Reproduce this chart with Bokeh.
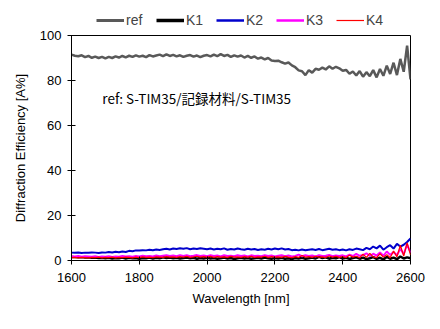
from bokeh.plotting import figure
from bokeh.layouts import column
from bokeh.models import Legend, LegendItem, Label, FixedTicker, Range1d
from bokeh.embed import file_html
from bokeh.resources import INLINE

wavelength = list(range(1600, 2601, 10))

ref = [91.5, 91.0, 90.8, 91.2, 90.4, 90.9, 90.1, 90.6, 90.0, 90.5,
       89.8, 90.5, 90.0, 90.7, 90.2, 90.9, 90.3, 91.0, 90.5, 91.2,
       90.6, 91.0, 90.4, 91.3, 90.7, 91.1, 91.5, 90.8, 91.6, 90.9,
       91.4, 90.7, 91.2, 90.5, 91.0, 91.3, 90.6, 91.1, 90.4, 91.0,
       91.3, 90.7, 91.5, 90.8, 91.7, 90.9, 91.4, 90.5, 91.2, 90.6,
       91.1, 90.2, 90.9, 90.1, 90.7, 89.7, 90.2, 89.4, 90.0, 88.9,
       88.7, 88.8, 88.1, 87.5, 88.0, 86.7, 85.9, 84.5, 84.1, 82.4,
       84.6, 83.5, 85.2, 84.8, 85.7, 84.9, 86.3, 85.2, 86.1, 85.4,
       84.3, 84.7, 83.0, 84.0, 82.2, 84.2, 81.7, 83.7, 81.9, 84.6,
       81.4, 85.1, 82.1, 86.6, 82.9, 87.9, 82.4, 89.6, 83.9, 95.5,
       80.5]

k1 = [1.6, 1.5, 1.4, 1.5, 1.3, 1.4, 1.2, 1.3, 1.1, 1.2,
      1.0, 1.2, 0.9, 1.1, 1.0, 1.3, 0.9, 1.2, 1.0, 1.1,
      0.8, 1.1, 1.0, 1.3, 0.9, 1.2, 1.0, 1.4, 1.1, 1.3,
      1.0, 1.2, 0.9, 1.1, 1.3, 1.0, 1.2, 0.8, 1.1, 0.9,
      1.2, 0.9, 1.1, 0.8, 1.0, 1.3, 0.9, 1.1, 0.7, 1.0,
      1.2, 0.9, 1.1, 0.8, 1.0, 1.2, 0.9, 1.3, 1.0, 0.8,
      1.1, 0.9, 1.2, 0.8, 1.0, 0.7, 1.1, 0.9, 1.2, 0.8,
      1.0, 1.3, 0.9, 1.6, 1.1, 1.4, 0.8, 1.2, 1.0, 1.5,
      0.9, 1.2, 0.7, 1.1, 1.4, 0.8, 1.3, 0.6, 1.0, 1.5,
      0.7, 1.2, 0.5, 1.6, 0.8, 1.3, 0.6, 1.8, 0.9, 1.4,
      1.0]

k2 = [3.5, 3.4, 3.6, 3.3, 3.5, 3.4, 3.6, 3.5, 3.3, 3.6,
      3.5, 3.8, 3.6, 3.9, 3.7, 4.0, 3.8, 4.3, 4.1, 4.5,
      4.4, 4.6, 4.5, 4.8, 4.6, 4.9, 4.7, 5.0, 5.2, 4.9,
      5.3, 5.1, 5.4, 5.2, 5.5, 5.0, 5.3, 5.1, 5.4, 5.2,
      5.0, 5.3, 4.9, 5.2, 5.0, 5.4, 4.8, 5.1, 4.9, 5.3,
      5.0, 4.8, 5.2, 4.9, 5.1, 4.7, 5.0, 4.8, 5.2, 4.9,
      5.3, 5.0, 5.4, 4.9, 5.1, 4.6, 4.8, 4.5, 4.9, 4.6,
      4.8, 5.0, 4.7, 5.1, 4.6, 4.9, 5.2, 4.8, 5.0, 4.6,
      4.9, 4.5, 5.0, 4.7, 5.3, 5.0, 4.6, 5.6, 5.0, 6.2,
      5.4, 6.6, 4.8, 5.9, 6.8, 5.3, 7.4, 6.2, 7.0, 8.2,
      9.8]

k3 = [1.9, 1.8, 2.0, 1.7, 1.9, 1.8, 1.7, 1.9, 1.6, 1.8,
      1.7, 1.9, 1.6, 1.8, 1.7, 2.0, 1.8, 1.9, 1.7, 2.0,
      1.8, 2.1, 1.9, 2.0, 1.8, 2.2, 1.9, 2.1, 2.3, 2.0,
      2.2, 1.9, 2.4, 2.0, 2.3, 1.9, 2.1, 2.4, 2.0, 2.2,
      1.9, 2.3, 2.0, 2.2, 1.8, 2.4, 2.0, 2.1, 1.9, 2.3,
      2.0, 2.2, 1.8, 2.3, 2.0, 2.1, 1.9, 2.4, 2.0, 2.2,
      1.8, 2.1, 2.3, 1.9, 2.2, 1.8, 2.0, 2.6, 1.9, 2.3,
      2.0, 2.2, 1.8, 2.4, 2.0, 2.1, 2.5, 1.9, 2.2, 2.0,
      2.3, 1.8, 2.6, 2.0, 2.9, 2.1, 2.4, 3.2, 2.0, 3.0,
      2.2, 3.6, 2.1, 4.0, 2.5, 3.8, 2.3, 5.2, 2.8, 7.2,
      3.5]

k4 = [1.3, 1.4, 1.2, 1.4, 1.3, 1.2, 1.4, 1.3, 1.5, 1.2,
      1.4, 1.3, 1.5, 1.2, 1.4, 1.3, 1.5, 1.4, 1.2, 1.5,
      1.3, 1.6, 1.4, 1.5, 1.3, 1.6, 1.5, 1.4, 1.7, 1.5,
      1.6, 1.4, 1.7, 1.5, 1.8, 1.4, 1.6, 1.9, 1.5, 1.7,
      1.5, 1.8, 1.4, 1.7, 1.5, 1.6, 1.4, 1.8, 1.5, 1.6,
      1.4, 1.7, 1.5, 1.8, 1.4, 1.6, 1.5, 1.9, 1.4, 1.7,
      1.5, 1.6, 1.4, 1.8, 1.5, 1.3, 1.7, 1.4, 2.2, 1.5,
      1.7, 1.4, 1.9, 1.5, 1.6, 1.3, 2.0, 1.5, 1.8, 1.4,
      1.7, 1.3, 2.3, 1.5, 1.9, 1.2, 2.8, 1.4, 3.2, 1.6,
      1.3, 3.0, 1.5, 2.6, 1.2, 4.2, 1.6, 6.8, 2.0, 7.8,
      2.5]

series_names = ["ref", "K1", "K2", "K3", "K4"]
series_data = [ref, k1, k2, k3, k4]
series_colors = ["#595959", "#000000", "#0000CC", "#FF00FF", "#FF0000"]
line_widths = [2.5, 2.5, 2.0, 2.0, 1.2]
legend_widths = [3, 3.5, 2.5, 2.5, 1.2]

x_ticks = [1600, 1800, 2000, 2200, 2400, 2600]
y_ticks = [0, 20, 40, 60, 80, 100]

# legend strip (separate figure above the chart; its lines lie outside its view)
lf = figure(width=440, height=28, output_backend="svg", toolbar_location=None,
            x_axis_type=None, y_axis_type=None, min_border=0,
            x_range=Range1d(1600, 2600), y_range=Range1d(1000, 1001))
lf.grid.visible = False
lf.outline_line_color = None
lf.border_fill_color = "white"
lf.background_fill_color = "white"
leg_items = []
for name, data, col, lw in zip(series_names, series_data, series_colors, legend_widths):
    r = lf.line(wavelength, data, line_color=col, line_width=lw)
    leg_items.append(LegendItem(label=name, renderers=[r]))
legend = Legend(items=leg_items, orientation="horizontal", location=(25, 0),
                label_text_font="Liberation Sans", label_text_font_size="14px",
                label_height=14, glyph_width=28, glyph_height=12,
                label_standoff=2, spacing=10, padding=0, margin=0,
                border_line_color=None, background_fill_alpha=0)
lf.add_layout(legend)

p = figure(width=440, height=301, output_backend="svg", toolbar_location=None,
           x_range=Range1d(1600, 2600), y_range=Range1d(0, 100),
           min_border_left=71, min_border_right=30, min_border_top=7,
           min_border_bottom=69)
p.grid.visible = False
p.outline_line_color = "black"
p.outline_line_width = 1
p.background_fill_color = "white"
p.border_fill_color = "white"

for name, data, col, lw in zip(series_names, series_data, series_colors, line_widths):
    p.line(wavelength, data, line_color=col, line_width=lw)

for ax in (p.xaxis[0], p.yaxis[0]):
    ax.axis_line_color = "black"
    ax.major_tick_line_color = "black"
    ax.minor_tick_line_color = None
    ax.major_tick_in = 4
    ax.major_tick_out = 4
    ax.major_label_text_font = "Liberation Sans"
    ax.major_label_text_font_size = "13px"
    ax.major_label_text_color = "black"
    ax.axis_label_text_font = "Liberation Sans"
    ax.axis_label_text_font_size = "13px"
    ax.axis_label_text_font_style = "normal"
    ax.axis_label_text_color = "black"

p.xaxis[0].ticker = FixedTicker(ticks=x_ticks)
p.yaxis[0].ticker = FixedTicker(ticks=y_ticks)
p.xaxis[0].axis_label = "Wavelength [nm]"
p.yaxis[0].axis_label = "Diffraction Efficiency [A%]"
p.xaxis[0].major_label_standoff = 8
p.xaxis[0].axis_label_standoff = 6
p.yaxis[0].major_label_standoff = 6
p.yaxis[0].axis_label_standoff = 9

note = Label(x=1691, y=72.4, text="ref: S-TIM35/記録材料/S-TIM35",
             text_font="Noto Sans CJK JP", text_font_size="13.5px",
             text_baseline="middle", text_color="black")
p.add_layout(note)

layout = column(lf, p, spacing=0)
open("out.html", "w").write(file_html(layout, INLINE))
